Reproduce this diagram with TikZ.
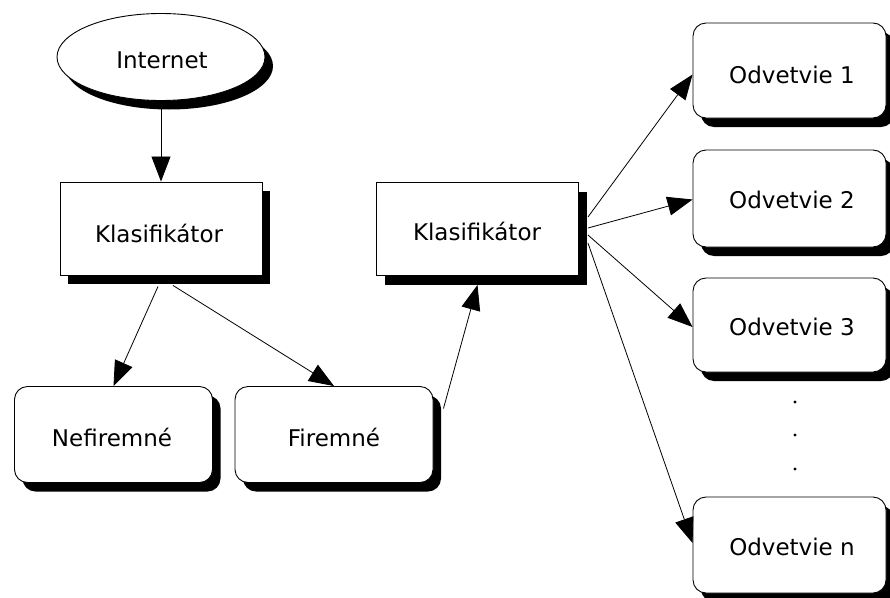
\documentclass[tikz,border=0pt]{standalone}
\usepackage{fontspec}
\setmainfont{DejaVu Sans}
\usetikzlibrary{arrows.meta,shadows,shapes.geometric}
\begin{document}
\begin{tikzpicture}[x=1pt,y=-1pt,
  sh/.style={drop shadow={shadow xshift=8pt,shadow yshift=-9pt,opacity=1,fill=black}},
  base/.style={draw,fill=white,line width=0.9pt,inner sep=0pt,sh},
  rectbox/.style={base,minimum width=202pt,minimum height=93pt},
  roundbox/.style={base,rounded corners=13pt,minimum width=198pt,minimum height=96pt},
  ellbox/.style={base,ellipse,minimum width=208pt,minimum height=87pt},
  lbl/.style={inner sep=0pt,font=\fontsize{23}{27}\selectfont},
  arr/.style={line width=0.8pt,-{Triangle[length=25pt,width=19pt]}}
]
\useasboundingbox (0,0) rectangle (890,597);
\clip (0,0) rectangle (890,597);
% shapes
\node[ellbox] (inet) at (161,57) {};
\node[rectbox] (k1) at (161,228.5) {};
\node[rectbox] (k2) at (477.5,229) {};
\node[roundbox] (nef) at (113.5,434.5) {};
\node[roundbox] (fir) at (334,434.5) {};
\node[roundbox,minimum width=193pt,minimum height=95pt] (o1) at (789.5,70.5) {};
\node[roundbox,minimum width=193pt,minimum height=97pt] (o2) at (789.5,198.5) {};
\node[roundbox,minimum width=193pt,minimum height=94pt] (o3) at (789.5,325) {};
\node[roundbox,minimum width=193pt,minimum height=96pt] (on) at (789.5,545) {};
% labels
\node[lbl] (tinet) at (162,60) {Internet};
\node[lbl] (tk1) at (159,233) {Klasifikátor};
\node[lbl] (tk2) at (477,231) {Klasifikátor};
\node[lbl] (tnef) at (112,437) {Nefiremné};
\node[lbl] (tfir) at (334,437) {Firemné};
\node[lbl] (to1) at (792,75) {Odvetvie 1};
\node[lbl] (to2) at (792,200) {Odvetvie 2};
\node[lbl] (to3) at (792,327) {Odvetvie 3};
\node[lbl] (ton) at (792,547) {Odvetvie n};
% dots
\fill (795,402) circle (1.6pt);
\fill (795,435) circle (1.6pt);
\fill (795,469) circle (1.6pt);
% connectors
\draw[arr] ([yshift=-8pt]inet.south) -- (k1.north);
\draw[arr] ([xshift=-3pt,yshift=-11pt]k1.south) -- (nef.north);
\draw[arr] ([xshift=12pt,yshift=-10pt]k1.south) -- (fir.north);
\draw[arr] ([xshift=10pt,yshift=26pt]fir.east) -- ([yshift=-9pt]k2.south);
\draw[arr] ([xshift=9pt,yshift=12pt]k2.east) -- ([yshift=-4pt]o1.west);
\draw[arr] ([xshift=9pt,yshift=1pt]k2.east) -- ([yshift=-1pt]o2.west);
\draw[arr] ([xshift=9pt,yshift=-6pt]k2.east) -- ([yshift=-2pt]o3.west);
\draw[arr] ([xshift=9pt,yshift=-14pt]k2.east) -- ([yshift=2pt]on.west);
\end{tikzpicture}
\end{document}
